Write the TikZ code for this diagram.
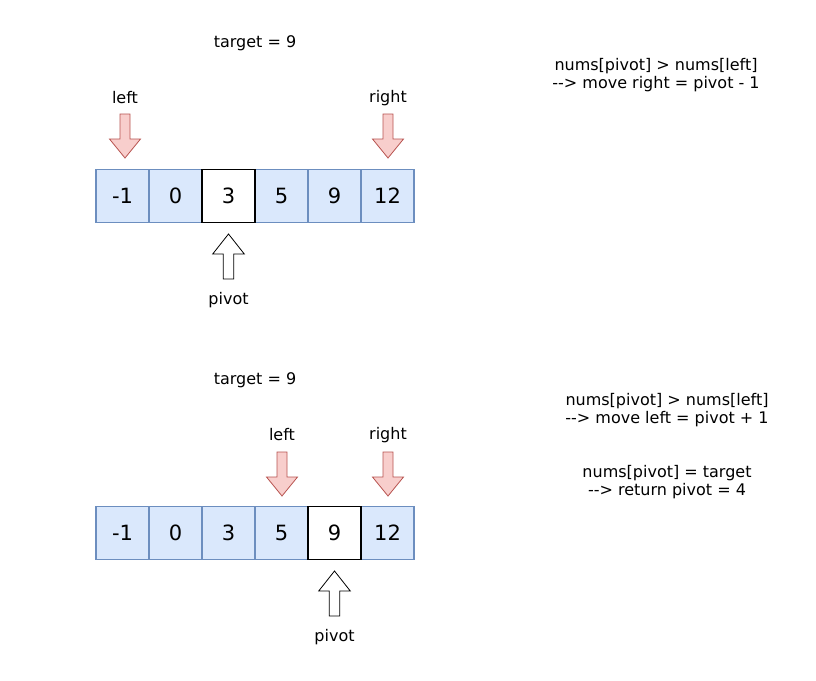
\documentclass[tikz,border=0pt]{standalone}
\usepackage{fontspec}
\setmainfont{DejaVu Sans}
\begin{document}
\begin{tikzpicture}[x=1pt,y=-1pt,
  cell/.style={draw=cellborder,fill=cellfill,line width=1.3pt,minimum width=53pt,minimum height=53pt,inner sep=0pt,font=\fontsize{21}{25}\selectfont},
  hicell/.style={draw=black,fill=white,line width=1.8pt,minimum width=53pt,minimum height=53pt,inner sep=0pt,font=\fontsize{21}{25}\selectfont},
  lbl/.style={inner sep=0pt,font=\fontsize{16}{19}\selectfont,align=center},
  redarrow/.style={draw=arrowborder,fill=arrowfill,line width=0.8pt,line join=miter},
  whitearrow/.style={draw=black,fill=white,line width=0.8pt,line join=miter},
  downarr/.pic={\path[redarrow] (-5,0) -- (5,0) -- (5,25) -- (15.5,25) -- (0,44) -- (-15.5,25) -- (-5,25) -- cycle;},
  uparr/.pic={\path[whitearrow] (0,0) -- (15.8,20) -- (5.3,20) -- (5.3,45) -- (-5.3,45) -- (-5.3,20) -- (-15.8,20) -- cycle;}
]
\definecolor{cellfill}{HTML}{DAE8FC}
\definecolor{cellborder}{HTML}{6C8EBF}
\definecolor{arrowfill}{HTML}{F8CECC}
\definecolor{arrowborder}{HTML}{B85450}
\useasboundingbox[fill=white] (0,0) rectangle (816,680);

% ---------- top row ----------
\node[lbl] (tg1) at (255,43) {target = 9};
\node[lbl] (lf1) at (125,98) {left};
\node[lbl] (rt1) at (388,98) {right};
\pic at (125,114) {downarr};
\pic at (388,114) {downarr};
\node[cell] (a0) at (122.5,196) {-1};
\node[cell] (a1) at (175.5,196) {0};
\node[cell] (a3) at (281.5,196) {5};
\node[cell] (a4) at (334.5,196) {9};
\node[cell] (a5) at (387.5,196) {12};
\node[hicell] (a2) at (228.5,196) {3};
\pic at (228.5,234) {uparr};
\node[lbl] (pv1) at (228.5,300) {pivot};
\node[lbl] (n1) at (656,75) {nums[pivot] > nums[left]\\[-1pt]-{}-> move right = pivot - 1};

% ---------- bottom row ----------
\node[lbl] (tg2) at (255,380) {target = 9};
\node[lbl] (lf2) at (282,435) {left};
\node[lbl] (rt2) at (388,435) {right};
\pic at (282,452) {downarr};
\pic at (388,452) {downarr};
\node[cell] (b0) at (122.5,533) {-1};
\node[cell] (b1) at (175.5,533) {0};
\node[cell] (b2) at (228.5,533) {3};
\node[cell] (b3) at (281.5,533) {5};
\node[cell] (b5) at (387.5,533) {12};
\node[hicell] (b4) at (334.5,533) {9};
\pic at (334.5,571) {uparr};
\node[lbl] (pv2) at (334.5,637) {pivot};
\node[lbl] (n2) at (667,410) {nums[pivot] > nums[left]\\[-1pt]-{}-> move left = pivot + 1};
\node[lbl] (n3) at (667,482) {nums[pivot] = target\\[-1pt]-{}-> return pivot = 4};
\end{tikzpicture}
\end{document}
